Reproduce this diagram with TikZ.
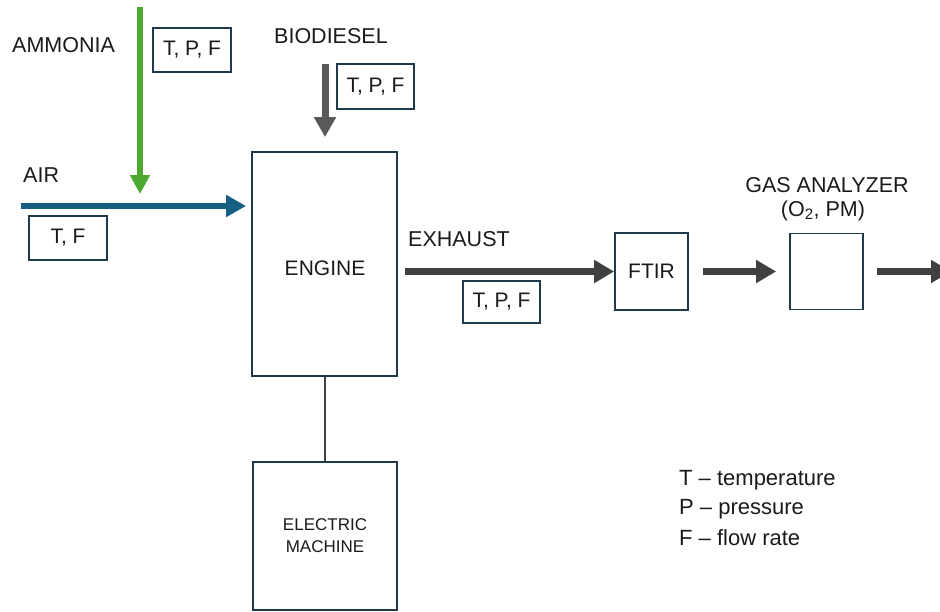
\documentclass[tikz,border=0pt]{standalone}
\usepackage{fontspec}
\setmainfont{Liberation Sans}
\usetikzlibrary{arrows.meta}
\definecolor{boxc}{HTML}{1F3A4B}
\definecolor{txtc}{HTML}{1A1A1A}
\definecolor{airc}{HTML}{156082}
\definecolor{ammc}{HTML}{4EA72E}
\definecolor{bioc}{HTML}{595959}
\definecolor{exhc}{HTML}{404040}
\begin{document}
\begin{tikzpicture}[x=1pt,y=-1pt,
  lbl/.style={inner sep=0pt, text=txtc, font=\fontsize{21.5}{24}\selectfont},
  legend/.style={inner sep=0pt, text=txtc, anchor=west, font=\fontsize{22}{24}\selectfont},
  box/.style={draw=boxc, line width=1.8pt, rectangle, inner sep=0pt, text=txtc, font=\fontsize{21}{24}\selectfont},
  exh/.style={draw=exhc, line width=7pt, -{Triangle[length=20pt,width=22pt]}},
  airflow/.style={draw=airc, line width=6.5pt, -{Triangle[length=20pt,width=21pt]}},
  ammflow/.style={draw=ammc, line width=5.5pt, -{Triangle[length=19pt,width=19pt]}},
  bioflow/.style={draw=bioc, line width=7pt, -{Triangle[length=20pt,width=21pt]}},
  shaft/.style={draw=exhc, line width=1.8pt}
]
\useasboundingbox (0,0) rectangle (940,611);
\clip (0,0) rectangle (940,611);

% main boxes
\node[box, minimum width=145pt, minimum height=224pt] (engine) at (324.5,264) {};
\node[lbl, font=\fontsize{21}{24}\selectfont] (engtext) at (325,268) {ENGINE};
\node[box, minimum width=144pt, minimum height=148pt, align=center,
      font=\fontsize{17}{22}\selectfont] (elec) at (325,536) {ELECTRIC\\MACHINE};
\node[box, minimum width=73pt, minimum height=77pt] (ftir) at (651.5,271.5) {FTIR};
\node[box, minimum width=73pt, minimum height=76pt] (gas) at (826.5,271.5) {};

% measurement boxes
\node[box, minimum width=78pt, minimum height=44pt] (mamm) at (192,50) {T, P, F};
\node[box, minimum width=77pt, minimum height=45pt] (mbio) at (375.5,86.5) {T, P, F};
\node[box, minimum width=78pt, minimum height=44pt] (mair) at (68,238) {T, F};
\node[box, minimum width=77pt, minimum height=42pt] (mexh) at (501.5,302) {T, P, F};

% labels
\node[lbl, anchor=west] (lamm) at (12,45.5) {AMMONIA};
\node[lbl, anchor=west] (lbio) at (274,36) {BIODIESEL};
\node[lbl, anchor=west] (lair) at (23,175.5) {AIR};
\node[lbl, anchor=west] (lexh) at (408,239) {EXHAUST};
\node[lbl] (lgas1) at (827,185) {GAS ANALYZER};
\node[lbl] (lgas2) at (823,211) {(O\textsubscript{2}, PM)};

% legend
\node[legend] (leg1) at (679,480) {T – temperature};
\node[legend] (leg2) at (679,509) {P – pressure};
\node[legend] (leg3) at (679,538) {F – flow rate};

% flows
\coordinate (airs) at (21,206);
\draw[airflow, shorten >=5pt] (airs) -- (airs -| engine.west);
\coordinate (ammtop) at (140,7);
\coordinate (ammend) at (140,194);
\draw[ammflow] (ammtop) -- (ammend);
\coordinate (biotop) at (325,64);
\draw[bioflow, shorten >=14pt] (biotop) -- (biotop |- engine.north);
\draw[exh, shorten <=7pt] (engine.east |- ftir.west) -- (ftir.west);
\draw[exh, shorten <=14pt, shorten >=13pt] (ftir.east) -- (gas.west);
\coordinate (outend) at (951,271.5);
\draw[exh, shorten <=13pt] (gas.east) -- (outend);
\draw[shaft] (elec.north |- engine.south) -- (elec.north);
\end{tikzpicture}
\end{document}
